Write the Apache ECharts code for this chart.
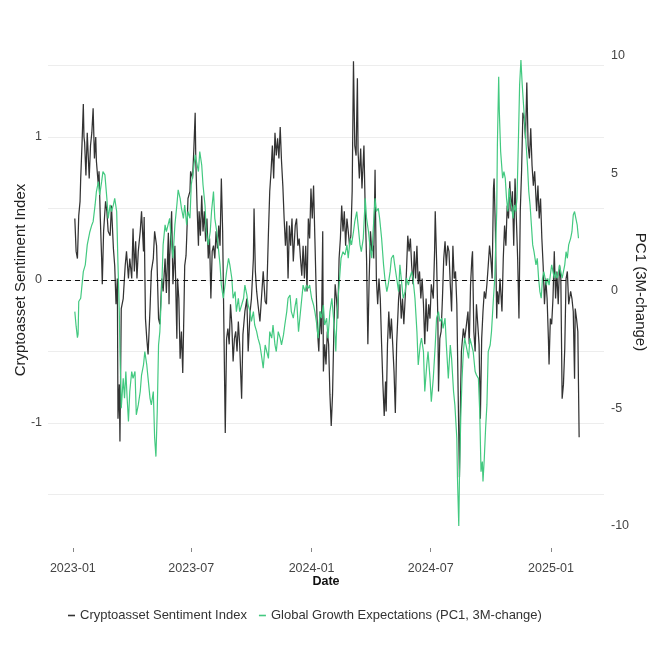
<!DOCTYPE html>
<html><head><meta charset="utf-8">
<script src="https://cdn.jsdelivr.net/npm/echarts@6/dist/echarts.min.js"></script>
<style>html,body{margin:0;padding:0;background:#fff}#chart{width:661px;height:661px}</style>
</head><body><div id="chart"></div>
<script>
// ---- data (days counted from startDate) ----
const startDate = '2023-01-01';
const sentimentDays = [3,5,7,9,11,12,14,16,17,18,20,22,25,27,29,31,33,35,36,39,40,42,44,45,47,50,52,54,57,59,62,64,66,68,69,71,72,74,77,80,82,85,87,90,92,94,96,98,100,103,105,108,109,111,113,115,118,120,123,125,128,131,133,136,138,141,
143,146,147,148,151,153,156,159,160,162,164,166,168,170,171,173,174,176,179,180,183,185,187,188,190,192,193,195,197,199,201,203,205,207,209,211,213,215,217,219,221,223,225,227,229,231,233,235,237,239,241,243,245,247,249,251,253,255,258,260,263,266,268,271,273,276,277,279,281,283,286,289,291,294,
296,299,301,303,305,307,309,311,313,315,317,319,321,323,325,327,329,331,333,335,337,340,342,344,346,348,350,352,354,356,358,360,362,364,366,368,370,372,374,376,378,380,382,383,385,387,389,391,393,395,397,399,401,403,405,407,409,411,413,415,417,419,421,423,425,427,429,431,433,435,436,438,440,442,445,447,
449,451,453,455,457,459,460,462,464,466,468,470,472,474,476,478,479,481,483,485,487,489,491,493,495,498,500,502,504,506,508,510,512,514,516,518,520,522,524,526,528,530,532,534,536,538,540,542,544,546,548,551,553,554,556,558,559,561,563,565,567,569,571,573,575,577,579,581,583,585,587,589,591,593,594,597,599,
601,604,606,608,610,611,613,615,617,619,621,623,625,627,629,631,633,635,637,639,641,643,644,646,648,649,651,653,656,658,660,662,664,666,668,670,672,674,676,678,680,682,684,686,688,690,692,694,696,698,700,702,704,706,709,711,713,715,717,719,721,723,725,727,728,730,732,734,736,738,740,742,744,746,748,750,752,754,756,758,761,763,765,767,768,770,772,774];
const sentimentValues = [0.43,0.20,0.15,0.45,0.55,0.71,0.95,1.23,1.00,0.96,0.73,1.03,0.71,0.94,1.03,1.20,0.85,1.00,0.83,0.66,0.76,0.43,0.15,-0.03,0.34,0.55,0.48,0.34,0.31,0.52,0.22,0.10,-0.17,0.01,-0.97,-0.73,-1.13,-0.20,-0.13,0.10,0.20,0.01,0.15,0.01,0.36,0.06,0.27,0.01,0.20,0.34,0.48,0.20,0.44,-0.27,-0.41,-0.52,-0.20,0.06,0.15,0.34,0.24,-0.27,-0.31,0.01,-0.08,0.15,
-0.09,0.33,-0.17,0.15,0.48,-0.03,0.24,-0.41,0.01,-0.13,-0.55,-0.36,-0.65,-0.17,0.10,0.17,0.29,0.57,0.62,0.76,0.71,0.92,1.17,0.83,0.50,0.24,0.48,0.31,0.59,0.34,0.48,0.27,0.43,0.15,0.29,-0.13,0.20,0.24,0.15,0.34,0.22,0.38,0.24,0.71,0.34,-0.36,-1.07,-0.41,-0.34,-0.45,-0.17,-0.31,-0.57,-0.41,-0.36,-0.50,-0.29,-0.45,-0.83,-0.38,-0.22,-0.13,-0.50,-0.22,-0.13,0.15,0.50,0.06,-0.08,-0.17,-0.29,-0.08,0.06,-0.15,
-0.17,0.33,0.62,0.76,0.94,0.71,1.03,0.87,0.99,0.85,1.07,0.83,0.66,0.43,0.24,0.41,0.01,0.38,0.24,0.43,0.13,0.38,0.43,0.24,0.29,0.15,0.03,0.24,0.01,0.24,-0.08,0.43,0.29,0.64,0.43,0.66,0.29,-0.08,-0.36,-0.50,-0.22,-0.38,0.34,-0.64,-0.45,-0.59,-0.36,-0.45,-0.80,-1.02,-0.80,-0.36,-0.03,-0.13,-0.27,0.15,0.29,0.52,0.34,0.48,0.24,0.43,0.34,0.24,0.31,0.62,1.53,0.94,0.87,1.41,0.90,0.71,0.92,0.64,0.94,0.48,
0.15,-0.45,0.01,0.34,0.20,0.24,0.15,0.77,0.01,-0.17,0.01,-0.13,-0.45,-0.73,-0.95,-0.71,-0.92,-0.45,-0.22,-0.41,-0.27,-0.45,-0.64,-0.93,-0.45,-0.13,-0.03,-0.27,-0.13,-0.31,-0.13,0.06,0.31,0.20,0.29,0.10,-0.03,0.20,0.01,0.24,-0.03,0.06,-0.13,0.01,-0.17,-0.45,-0.13,-0.36,-0.17,-0.27,-0.03,-0.13,0.20,0.48,0.15,-0.27,-0.78,-0.41,-0.36,-0.13,0.15,0.27,0.10,0.24,0.20,-0.03,-0.22,0.24,0.01,0.06,-0.17,-0.78,-1.38,-0.73,-0.50,-0.34,-0.41,
-0.34,-0.22,-0.45,-0.03,0.15,0.20,-0.36,-0.50,-0.17,-0.31,-0.45,-0.97,-0.41,-0.22,-0.08,-0.13,-0.03,0.10,0.24,0.15,0.01,0.64,0.71,0.34,-0.27,-0.08,-0.17,0.01,-0.22,0.15,0.38,0.24,0.52,0.43,0.69,0.48,0.62,0.24,0.71,0.43,0.15,-0.27,0.48,0.76,1.17,1.13,0.99,1.38,0.94,0.85,1.06,0.80,0.66,0.76,0.48,0.66,0.43,0.57,0.29,0.10,-0.17,0.01,-0.13,-0.41,-0.59,-0.27,-0.31,-0.13,0.20,-0.13,0.06,-0.17,0.10,0.01,-0.83,-0.73,-0.48,0.01,0.06,-0.17,-0.08,-0.13,-0.22,-0.69,-0.20,-0.27,-0.36,-1.10];

const growthDays = [3,5,7,8,9,12,16,19,22,26,29,31,34,36,39,41,44,46,49,52,54,57,59,62,64,67,69,71,72,74,77,79,81,83,85,87,90,92,95,97,100,103,105,108,110,113,115,118,120,123,125,127,129,131,133,136,138,141,
143,146,148,151,153,156,159,161,164,166,169,171,174,176,179,181,184,187,189,192,194,197,199,202,204,207,210,212,215,217,220,222,225,227,230,232,235,238,240,243,245,248,250,253,255,258,261,263,266,268,271,273,276,278,281,283,286,289,291,294,
296,299,301,304,306,309,311,314,317,319,322,324,327,329,332,334,337,340,342,345,347,350,352,355,357,360,362,365,368,370,373,375,378,380,383,385,388,390,393,396,398,401,402,404,407,410,413,416,419,421,424,426,429,431,434,436,439,441,444,447,
449,452,454,457,459,462,464,467,469,472,475,477,480,482,485,487,490,492,495,498,500,503,505,508,510,513,515,518,520,523,526,528,531,533,536,538,541,543,546,548,551,554,556,559,561,564,566,569,571,574,577,579,582,584,587,588,590,591,593,595,597,599,
602,605,607,610,612,615,617,620,622,624,626,627,629,631,633,635,638,640,643,645,648,649,651,652,654,657,659,661,663,665,667,669,671,673,675,677,679,681,683,685,687,689,691,693,695,697,699,701,703,705,708,710,712,714,716,718,720,722,724,726,728,730,732,734,736,738,740,742,744,746,748,750,752,754,756,758,761,763,765,767,769,771,773];
const growthValues = [-0.88,-1.50,-1.99,-1.84,-0.45,-0.31,0.82,1.11,1.96,2.52,2.81,2.95,3.66,4.23,4.65,4.09,4.65,5.08,4.94,3.94,3.09,3.66,3.38,3.66,3.94,3.38,1.11,-0.88,-2.58,-4.99,-3.72,-4.57,-3.43,-4.57,-5.56,-4.28,-3.43,-3.72,-3.43,-5.27,-4.85,-4.28,-3.58,-3.15,-2.58,-3.15,-3.72,-4.57,-4.85,-4.28,-6.24,-7.05,-5.13,-2.30,-1.73,0.25,1.96,2.81,
2.52,2.52,3.09,1.96,1.39,2.81,3.66,4.30,3.94,3.52,3.09,3.66,2.81,3.38,3.09,4.51,5.08,5.79,5.50,5.08,5.93,5.36,4.51,3.66,2.52,1.96,2.52,3.38,4.23,3.09,2.52,1.96,1.11,0.25,-0.31,0.11,0.82,1.39,1.11,0.54,-0.31,-0.03,-0.88,-0.31,-0.88,-0.60,-0.31,0.25,-0.17,-0.60,-0.88,-1.30,-0.88,-1.45,-1.73,-2.01,-2.30,-2.87,-3.29,-2.30,
-2.30,-2.87,-1.73,-2.01,-1.45,-2.30,-2.58,-1.73,-2.01,-2.30,-1.87,-1.45,-0.88,-0.31,-0.17,-0.88,-1.16,-0.60,-0.31,-1.73,-1.16,-0.31,0.25,-0.03,0.25,0.11,0.25,-0.31,-0.60,-0.88,-1.45,-2.01,-0.88,-1.16,-0.60,-1.45,-1.16,-2.01,-0.88,-0.31,-0.31,-2.01,-2.58,-0.88,0.25,1.39,1.67,1.53,1.96,1.39,2.24,1.96,2.52,2.95,3.38,2.81,1.96,1.67,2.24,3.94,
3.09,2.52,1.96,1.39,2.52,3.94,3.38,3.52,3.09,2.24,1.11,0.54,-0.03,0.25,0.82,1.39,1.53,1.11,0.54,-0.03,1.11,0.25,-0.31,-0.03,0.54,0.25,0.54,0.82,0.54,-0.31,-1.73,-3.15,-2.30,-2.01,-2.58,-4.28,-3.15,-2.58,-3.72,-4.71,-3.72,-2.30,-1.16,-0.88,-1.30,-1.16,-1.59,-1.16,-2.30,-3.72,-2.30,-2.87,-4.28,-4.85,-6.27,-7.97,-10.0,-7.97,-5.42,-3.72,-2.58,-2.01,
-2.01,-2.87,-2.01,-2.01,-2.58,-3.43,-3.58,-3.72,-5.13,-7.69,-7.26,-8.11,-7.12,-5.84,-4.85,-2.58,-2.30,-1.73,-0.31,0.54,3.38,6.21,9.12,7.63,5.93,4.80,5.08,4.80,3.94,3.38,4.37,3.80,3.52,3.09,3.66,3.38,3.94,6.21,8.77,9.83,8.77,7.91,7.06,6.21,5.36,4.23,3.66,2.81,1.96,1.67,1.11,1.39,0.54,-0.03,-0.31,0.54,0.82,0.54,0.25,0.54,0.25,0.68,1.11,0.82,0.54,0.82,0.54,0.68,1.11,0.82,0.54,0.82,1.11,1.67,1.39,1.96,2.24,2.52,3.23,3.38,3.09,2.81,2.24];

const xTickLabels = ['2023-01', '2023-07', '2024-01', '2024-07', '2025-01'];
const leftTickValues = [-1, 0, 1];
const leftGridValues = [-1.5, -1, -0.5, 0, 0.5, 1, 1.5];
const rightTickValues = [-10, -5, 0, 5, 10];

// ---- build ----
const DAY = 86400000;
const t0 = Date.parse(startDate + 'T00:00:00Z');
const toTs = d => t0 + d * DAY;
const sentimentData = sentimentDays.map((d, i) => [toTs(d), sentimentValues[i]]);
const growthData = growthDays.map((d, i) => [toTs(d), growthValues[i]]);
const xTickValues = xTickLabels.map(s => Date.parse(s + '-01T00:00:00Z'));

const FONT = "'Liberation Sans', Arial, Helvetica, sans-serif";
const chart = echarts.init(document.getElementById('chart'), null, {renderer: 'canvas'});
chart.setOption({
  animation: false,
  backgroundColor: '#ffffff',
  textStyle: {fontFamily: FONT},
  grid: {left: 48, right: 57, top: 36, bottom: 113, containLabel: false, outerBoundsMode: 'none'},
  legend: {
    left: 63, top: 604,
    icon: 'rect', itemWidth: 7, itemHeight: 1.6, itemGap: 12,
    textStyle: {fontSize: 13, color: '#333333', fontFamily: FONT},
    data: ['Cryptoasset Sentiment Index', 'Global Growth Expectations (PC1, 3M-change)']
  },
  xAxis: {
    type: 'value',
    min: toTs(-38), max: toTs(812),
    name: 'Date', nameLocation: 'middle', nameGap: 27, nameMoveOverlap: false,
    nameTextStyle: {fontSize: 12.5, fontWeight: 'bold', color: '#111', fontFamily: FONT},
    axisLine: {show: false, onZero: false},
    axisTick: {show: true, inside: false, length: 4, customValues: xTickValues, lineStyle: {color: '#666', width: 0.8}},
    axisLabel: {customValues: xTickValues, margin: 14, fontSize: 12.5, color: '#444',
      formatter: v => new Date(v).toISOString().slice(0, 7)},
    splitLine: {show: false}
  },
  yAxis: [{
    type: 'value', position: 'left',
    min: -1.874, max: 1.706,
    name: 'Cryptoasset Sentiment Index', nameLocation: 'middle', nameGap: 20, nameMoveOverlap: false,
    nameTextStyle: {fontSize: 15, color: '#222', fontFamily: FONT, padding: [0, 0, 0, 24]},
    axisLine: {show: false},
    axisTick: {show: false, customValues: leftGridValues},
    axisLabel: {customValues: leftTickValues, margin: 6, fontSize: 12.5, color: '#444'},
    splitLine: {show: true, lineStyle: {color: '#ebebeb', width: 0.9}}
  }, {
    type: 'value', position: 'right',
    min: -10.94, max: 10.85,
    name: 'PC1 (3M-change)', nameLocation: 'middle', nameGap: 29, nameRotate: -90, nameMoveOverlap: false,
    nameTextStyle: {fontSize: 15, color: '#222', fontFamily: FONT},
    axisLine: {show: false},
    axisTick: {show: false},
    axisLabel: {customValues: rightTickValues, margin: 7, fontSize: 12.5, color: '#444'},
    splitLine: {show: false}
  }],
  series: [{
    name: 'Cryptoasset Sentiment Index', type: 'line', yAxisIndex: 0,
    data: sentimentData, showSymbol: false, symbol: 'none',
    color: '#333333',
    lineStyle: {color: '#333333', width: 1.25},
    z: 2,
    markLine: {
      silent: true, symbol: 'none', label: {show: false},
      lineStyle: {color: '#111', type: [5, 4], width: 1.1},
      data: [{yAxis: 0}]
    }
  }, {
    name: 'Global Growth Expectations (PC1, 3M-change)', type: 'line', yAxisIndex: 1,
    data: growthData, showSymbol: false, symbol: 'none',
    color: '#43c980',
    lineStyle: {color: '#43c980', width: 1.2},
    z: 3
  }]
});
</script>
</body></html>
